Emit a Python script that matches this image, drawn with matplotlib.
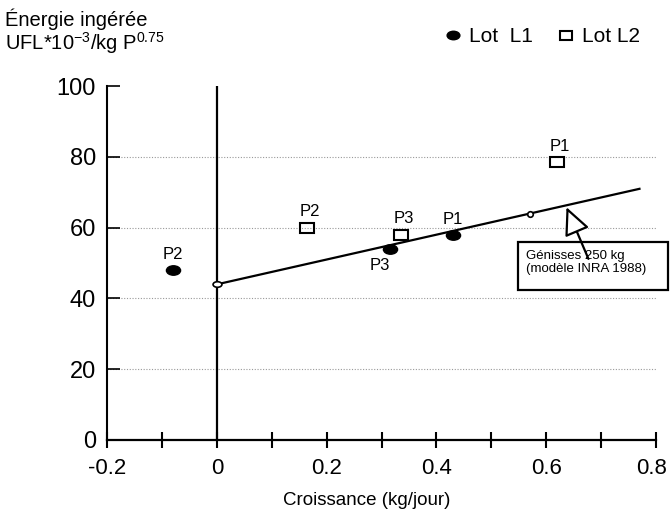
import matplotlib.pyplot as plt
from matplotlib.markers import MarkerStyle
from matplotlib.patches import Rectangle
from matplotlib.transforms import Affine2D, ScaledTranslation

plt.rcParams['font.family'] = ['Liberation Sans', 'DejaVu Sans']
plt.rcParams['mathtext.default'] = 'regular'

# Lot L1 (filled) and Lot L2 (open squares)
l1_x = [-0.08, 0.315, 0.43]
l1_y = [48, 54, 58]
l1_labels = ["P2", "P3", "P1"]

l2_x = [0.165, 0.335, 0.62]
l2_y = [60, 58, 78.5]
l2_labels = ["P2", "P3", "P1"]

# INRA 1988 model line, heifers 250 kg
model_x = [0, 0.57, 0.77]
model_y = [44, 64, 71]

grid_y = [20, 40, 60, 80]

ellipse = MarkerStyle('o', transform=Affine2D().scale(1.5, 1.0))
rect = MarkerStyle('s', fillstyle='none', transform=Affine2D().scale(1.4, 1.0))

fig = plt.figure(figsize=(6.7, 5.21), dpi=100)
ax = fig.add_axes([0.160, 0.1555, 0.819, 0.679])

for g in grid_y:
    ax.axhline(g, color='#999999', lw=0.8, ls=(0, (1, 1.5)), zorder=0)

ax.axvline(0, color='black', lw=1.6, zorder=1)

ax.plot(model_x, model_y, color='black', lw=1.6, zorder=2)
ax.plot(model_x[0], model_y[0], marker=MarkerStyle('o', transform=Affine2D().scale(1.6, 1.0)),
        ms=4, mfc='white', mec='black', mew=1.2, zorder=3)
ax.plot(model_x[1], model_y[1], marker='o', ms=4, mfc='white', mec='black', mew=1.2, zorder=3)

h1, = ax.plot(l1_x, l1_y, ls='none', marker=ellipse, ms=6.8, color='black', zorder=4)
h2, = ax.plot(l2_x, l2_y, ls='none', marker=rect, ms=7.2, mfc='white', mec='black',
              mew=1.5, zorder=4)

for x, y, t in zip(l1_x, l1_y, l1_labels):
    off = (-7, -12) if t == "P3" else (0, 11)
    ax.annotate(t, (x, y), xytext=off, textcoords='offset points',
                ha='center', va='center', fontsize=12)
for x, y, t in zip(l2_x, l2_y, l2_labels):
    ax.annotate(t, (x, y), xytext=(2, 11.5), textcoords='offset points',
                ha='center', va='center', fontsize=12)

# callout for the model line
ax.annotate('', xy=(0.637, 65.8), xytext=(0.677, 51.2),
            arrowprops=dict(arrowstyle='-|>,head_length=0.85,head_width=0.4',
                            mutation_scale=20, fc='white', ec='black', lw=1.6,
                            shrinkA=0, shrinkB=0),
            zorder=6)
ax.add_patch(Rectangle((0.548, 42.4), 0.274, 13.5, fill=False, ec='black', lw=1.6,
                       clip_on=False, zorder=5))
ax.text(0.563, 50.2, "Génisses 250 kg\n(modèle INRA 1988)", fontsize=9.5,
        ha='left', va='center', linespacing=1.15, zorder=5)

ax.set_xlim(-0.2, 0.8)
ax.set_ylim(0, 100)
ax.set_xticks([-0.2, 0, 0.2, 0.4, 0.6, 0.8])
ax.set_xticklabels(['-0.2', '0', '0.2', '0.4', '0.6', '0.8'])
ax.set_xticks([-0.1, 0.1, 0.3, 0.5, 0.7], minor=True)
ax.set_yticks([0, 20, 40, 60, 80, 100])
ax.tick_params(axis='x', which='both', direction='inout', length=12, width=1.5,
               labelsize=16, pad=7)
ax.tick_params(axis='y', direction='in', length=9, width=1.2, labelsize=17, pad=8)

# keep the last x label inside the figure
last = ax.get_xticklabels()[-1]
last.set_transform(last.get_transform() + ScaledTranslation(-4 / 100, 0, fig.dpi_scale_trans))

for s in ['top', 'right']:
    ax.spines[s].set_visible(False)
ax.spines['left'].set_linewidth(1.5)
ax.spines['bottom'].set_linewidth(1.6)

ax.set_xlabel("Croissance (kg/jour)", fontsize=13.5)
ax.xaxis.set_label_coords(0.472, -0.148)

fig.text(0.008, 0.963, "Énergie ingérée", fontsize=14.5, va='center')
fig.text(0.008, 0.917, "UFL*10$^{-3}$/kg P$^{0.75}$", fontsize=14.5, va='center')

fig.legend([h1, h2], ["Lot  L1", "Lot L2"], loc='center right',
           bbox_to_anchor=(0.955, 0.93), ncol=2, frameon=False, fontsize=15,
           handlelength=0.8, handletextpad=0.35, columnspacing=1.2,
           borderpad=0, borderaxespad=0, markerscale=0.9)

fig.savefig('out.png', dpi=100)
